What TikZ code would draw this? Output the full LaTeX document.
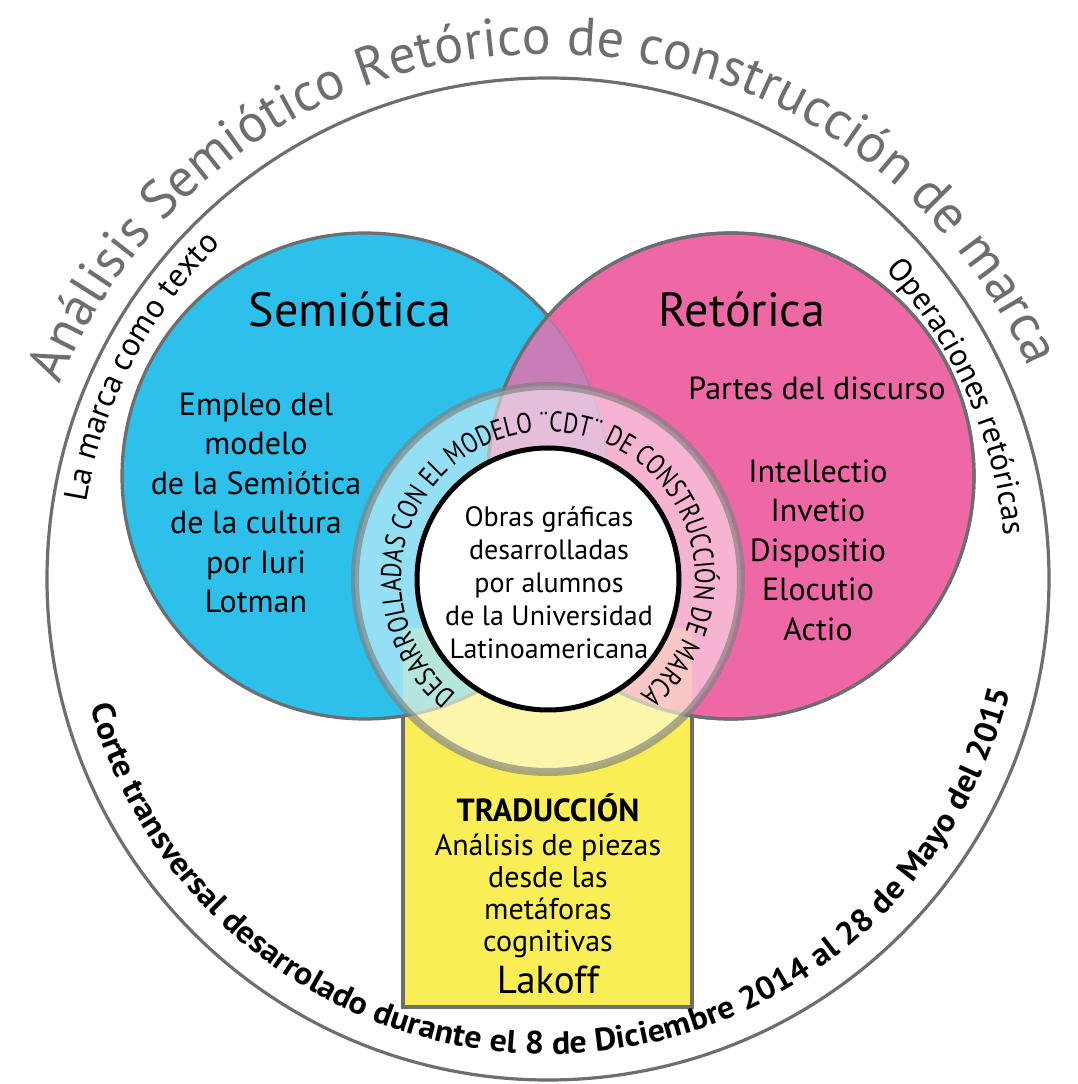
\documentclass[tikz,border=0pt]{standalone}
\usepackage{fontspec}
\setmainfont{PT Sans}
\newfontfamily\ringfont[FakeStretch=0.8]{PT Sans}
\newfontfamily\datefont[FakeStretch=1.06]{PT Sans Bold}
\usepackage{tikz}
\usetikzlibrary{decorations.text}
\definecolor{semioblue}{HTML}{2CC0EA}
\definecolor{retopink}{HTML}{EE68A6}
\definecolor{lenspurple}{HTML}{C97DB8}
\definecolor{tradyellow}{HTML}{F9EE55}
\definecolor{rimgray}{HTML}{6D6E71}

\begin{document}
\begin{tikzpicture}[x=0.5pt, y=0.5pt,
    rim/.style={draw=rimgray, line width=1.6pt},
    bigtitle/.style={font=\fontsize{24}{28}\selectfont},
    blocktext/.style={align=center, font=\fontsize{16}{19.75}\selectfont},
    arctext/.style={decorate, decoration={text along path, text align=center, #1}}]
    \useasboundingbox (0,0) rectangle (1078,1084);
    \coordinate (c) at (548,505);
    \coordinate (cs) at (365,608);
    \coordinate (cr) at (731,608);
    % Outer circle
    \draw[rim] (c) circle[radius=501];
    % Yellow box
    \draw[rim, fill=tradyellow] (403,77) rectangle (692,456);
    % Semiotica and Retorica
    \draw[rim, fill=semioblue] (cs) circle[radius=243];
    \draw[rim, fill=retopink] (cr) circle[radius=243];
    \begin{scope}
      \clip (cs) circle[radius=243];
      \fill[lenspurple] (cr) circle[radius=243];
      \draw[rimgray, opacity=0.25, line width=1.6pt] (cs) circle[radius=243];
    \end{scope}
    \draw[rim] (cr) circle[radius=243];
    % Ring
    \begin{scope}
      \clip (c) circle[radius=193];
      \fill[tradyellow, opacity=0.3] (403,77) rectangle (692,456);
      \fill[white, opacity=0.5] (c) circle[radius=193];
    \end{scope}
    \draw[gray, opacity=0.65, line width=4pt] (c) circle[radius=193];
    \draw[fill=white, line width=2.5pt] (c) circle[radius=131];
    % Arc labels
    \path[arctext={text color=rimgray,
      text={|\fontsize{27}{30}\selectfont|Análisis Semiótico Retórico de construcción de marca}}]
      (c) ++(178:525) arc[start angle=178, end angle=4, radius=525];
    \path[arctext={text={|\fontsize{16.5}{20}\selectfont|La marca como texto}}]
      (c) ++(183:468) arc[start angle=183, end angle=122, radius=468];
    \path[arctext={text={|\fontsize{16}{18}\selectfont|Operaciones retóricas}}]
      (c) ++(56:458) arc[start angle=56, end angle=-8, radius=458];
    \path[arctext={text={|\datefont\fontsize{16}{18}\selectfont|Corte transversal desarrolado durante el 8 de Diciembre 2014 al 28 de Mayo del 2015}}]
      (c) ++(183:475) arc[start angle=183, end angle=359, radius=475];
    \path[arctext={text={|\ringfont\fontsize{14.3}{16}\selectfont|DESARROLLADAS CON EL MODELO ¨CDT¨ DE CONSTRUCCIÓN DE MARCA}}]
      (c) ++(238:147) arc[start angle=238, end angle=-58, radius=147];
    % Titles
    \node[bigtitle] (semio) at (350,774) {Semiótica};
    \node[bigtitle] (reto) at (742,774) {Retórica};
    % Texts
    \node[blocktext] (semiotxt) at (256,581) {Empleo del\\ modelo\\ de la Semiótica\\ de la cultura\\ por Iuri\\ Lotman};
    \node[blocktext] (partes) at (817,696) {Partes del discurso};
    \node[blocktext] (oper) at (818,534) {Intellectio\\ Invetio\\ Dispositio\\ Elocutio\\ Actio};
    \node[align=center, font=\fontsize{14}{16.5}\selectfont] (obras) at (549,501)
      {Obras gráficas\\ desarrolladas\\ por alumnos\\ de la Universidad\\ Latinoamericana};
    \node[font=\bfseries\fontsize{16}{18}\selectfont] (trad) at (548,276) {TRADUCCIÓN};
    \node[align=center, font=\fontsize{15}{16}\selectfont] (piezas) at (548,188)
      {Análisis de piezas\\ desde las\\ metáforas\\ cognitivas};
    \node[font=\fontsize{19.5}{22}\selectfont] (lakoff) at (548,104) {Lakoff};
\end{tikzpicture}
\end{document}
